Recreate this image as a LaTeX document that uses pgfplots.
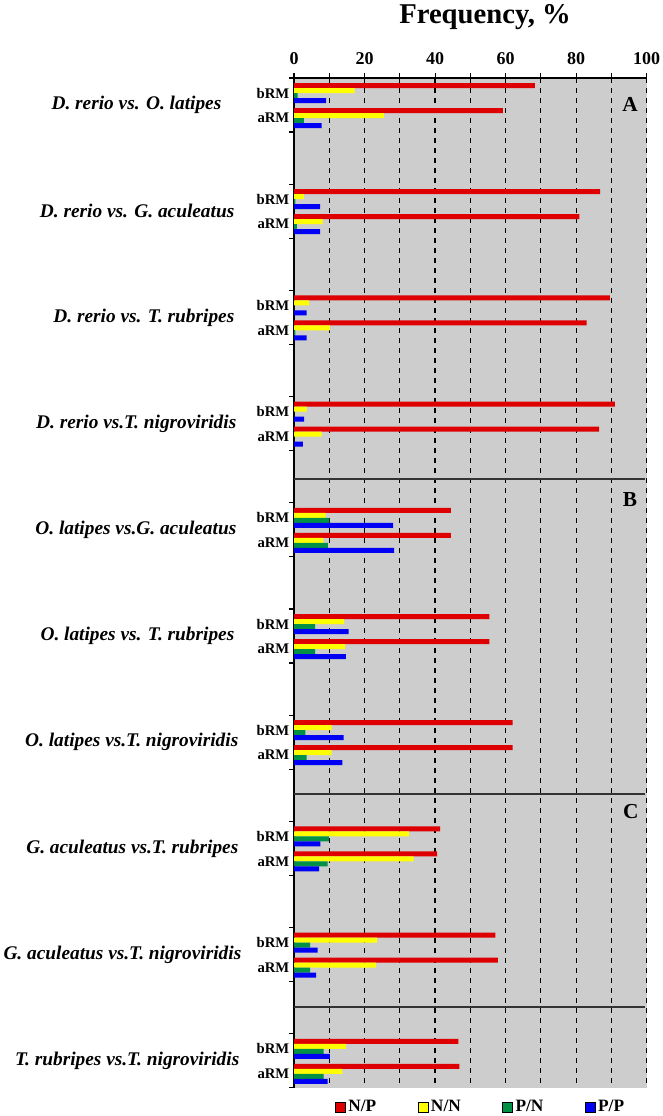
\documentclass[border=0pt]{standalone}
\usepackage{fontspec}
\setmainfont{Liberation Serif}
\usepackage{pgfplots}
\usepackage{pgfplotstable}
\pgfplotsset{compat=1.18}
\definecolor{cNP}{RGB}{222,0,0}
\definecolor{cNN}{RGB}{255,255,0}
\definecolor{cPN}{RGB}{0,145,70}
\definecolor{cPP}{RGB}{0,0,245}
\definecolor{bggray}{RGB}{205,205,205}

% y = vertical position of the sub-group (bRM / aRM) centre
\pgfplotstableread{
y      NP    NN    PN    PP
93     68.3  17.2  1.0   9.1
118    59.2  25.5  2.8   7.8
199.2  86.8  2.8   0.4   7.4
224.2  80.9  8.1   0.8   7.4
305.4  89.6  4.3   0.0   3.6
330.4  83.0  10.2  0.4   3.6
411.6  91.0  3.6   0.0   2.9
436.6  86.5  7.8   0.0   2.5
517.8  44.5  9.0   10.0  28.1
542.8  44.5  8.3   9.6   28.4
624    55.4  14.2  6.0   15.5
649    55.4  14.5  6.0   14.7
730.2  62.0  10.7  3.2   14.1
755.2  62.0  10.7  3.6   13.7
836.4  41.4  32.6  9.9   7.5
861.4  40.6  33.9  9.5   7.1
942.6  57.1  23.5  4.6   6.7
967.6  57.8  23.3  4.6   6.3
1048.8 46.6  14.7  8.4   10.2
1073.8 46.9  13.7  8.4   9.5
}\data

\begin{document}
\begin{tikzpicture}[x=0.75pt,y=-0.75pt]
\begin{axis}[
  at={(220.5pt,-58.5pt)}, anchor=north west,
  scale only axis, width=264.5pt, height=757.35pt,
  xmin=0, xmax=100, ymin=78, ymax=1087.8, y dir=reverse,
  axis x line*=top, axis y line*=left,
  axis line style={line width=1pt, black},
  axis background/.style={fill=bggray},
  xbar, bar width=5,
  xtick={0,20,...,100}, minor xtick={10,30,...,90},
  xmajorgrids, xminorgrids,
  major grid style={black, line width=0.9pt, dash pattern=on 3.75pt off 3.75pt},
  minor grid style={black, line width=0.9pt, dash pattern=on 3.75pt off 3.75pt},
  tick align=outside,
  major tick length=3.5pt, minor tick length=3.5pt,
  tick style={black, line width=0.8pt},
  /pgf/number format/assume math mode=true,
  xticklabel style={font=\fontsize{13.5}{14}\selectfont\bfseries, yshift=3pt},
  ytick={78,132,184.2,238.2,290.4,344.4,396.6,450.6,502.8,556.8,609,663,715.2,769.2,821.4,875.4,927.6,981.6,1033.8,1087.8},
  yticklabels={},
  extra y ticks={93,118,199.2,224.2,305.4,330.4,411.6,436.6,517.8,542.8,624,649,730.2,755.2,836.4,861.4,942.6,967.6,1048.8,1073.8},
  extra y tick labels={bRM,aRM,bRM,aRM,bRM,aRM,bRM,aRM,bRM,aRM,bRM,aRM,bRM,aRM,bRM,aRM,bRM,aRM,bRM,aRM},
  extra y tick style={major tick length=0pt, yticklabel style={font=\fontsize{11}{12}\selectfont\bfseries}},
  legend columns=4,
  legend style={draw=none, fill=none, at={(axis description cs:0.53,-0.019)}, anchor=center,
    font=\fontsize{13}{13}\selectfont\bfseries,
    /tikz/every even column/.append style={column sep=29pt}},
  legend image code/.code={\draw[#1,draw=black,line width=0.5pt] (0pt,-3.75pt) rectangle (7.5pt,3.75pt);},
  clip=false,
]
\addplot[fill=cNP, draw=none, bar shift=-7.5] table[x=NP,y=y]{\data};
\addplot[fill=cNN, draw=none, bar shift=-2.5] table[x=NN,y=y]{\data};
\addplot[fill=cPN, draw=none, bar shift=2.5] table[x=PN,y=y]{\data};
\addplot[fill=cPP, draw=none, bar shift=7.5] table[x=PP,y=y]{\data};
\legend{N/P,N/N,P/N,P/P}
\draw[line width=1.1pt, black!80] (axis cs:0,479) -- (axis cs:99.6,479);
\draw[line width=1.1pt, black!80] (axis cs:0,794) -- (axis cs:99.6,794);
\draw[line width=1.1pt, black!80] (axis cs:0,1007) -- (axis cs:99.6,1007);
\node[font=\fontsize{16}{16}\selectfont\bfseries] at (axis cs:95.3,104) {A};
\node[font=\fontsize{16}{16}\selectfont\bfseries] at (axis cs:95.3,500) {B};
\node[font=\fontsize{16}{16}\selectfont\bfseries] at (axis cs:95.5,812) {C};
\end{axis}
\node[font=\fontsize{21.5}{22}\selectfont\bfseries, anchor=base] at (485,24) {Frequency, \%};
\begin{scope}[every node/.style={anchor=east, font=\fontsize{14.5}{15}\selectfont\bfseries\itshape}]
\node at (226,105) {D. rerio vs. O. latipes};
\node at (239,211.2) {D. rerio vs. G. aculeatus};
\node at (239,317.4) {D. rerio vs. T. rubripes};
\node at (241,423.6) {D. rerio vs.T. nigroviridis};
\node at (241,529.8) {O. latipes vs.G. aculeatus};
\node at (239,636) {O. latipes vs. T. rubripes};
\node at (243,742.2) {O. latipes vs.T. nigroviridis};
\node at (243,848.4) {G. aculeatus vs.T. rubripes};
\node at (246,954.6) {G. aculeatus vs.T. nigroviridis};
\node at (244,1060.8) {T. rubripes vs.T. nigroviridis};
\end{scope}
\pgfresetboundingbox
\useasboundingbox (0,0) rectangle (663,1116);
\end{tikzpicture}
\end{document}
